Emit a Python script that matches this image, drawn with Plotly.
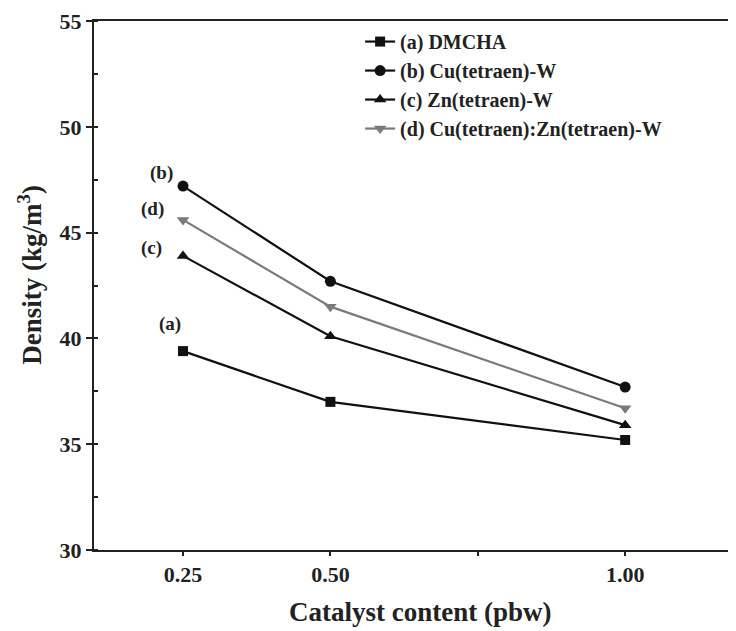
import plotly.graph_objects as go

catalyst = [0.25, 0.50, 1.00]
dmcha = [39.4, 37.0, 35.2]
cu_w = [47.2, 42.7, 37.7]
zn_w = [43.9, 40.1, 35.9]
cuzn_w = [45.6, 41.5, 36.7]

names = ["(a) DMCHA", "(b) Cu(tetraen)-W", "(c) Zn(tetraen)-W", "(d) Cu(tetraen):Zn(tetraen)-W"]
series = [dmcha, cu_w, zn_w, cuzn_w]
symbols = ["square", "circle", "triangle-up", "triangle-down"]
colors = ["#111111", "#111111", "#111111", "#7a7a7a"]
sizes = [10, 11, 11, 11]

xtick_vals = [0.25, 0.50, 1.00]
xtick_text = ["0.25", "0.50", "1.00"]
ytick_vals = [30, 35, 40, 45, 50, 55]

point_labels = ["(a)", "(b)", "(c)", "(d)"]
label_x = [0.228, 0.214, 0.197, 0.199]
label_y = [40.68, 47.82, 44.27, 46.12]

FONT = "Liberation Serif, Times New Roman, serif"

fig = go.Figure()
for n, s, sym, c, sz in zip(names, series, symbols, colors, sizes):
    fig.add_trace(go.Scatter(
        x=catalyst, y=s, name=n, mode="lines+markers",
        line=dict(color=c, width=2.2),
        marker=dict(symbol=sym, size=sz, color=c),
    ))

for t, lx, ly in zip(point_labels, label_x, label_y):
    fig.add_annotation(x=lx, y=ly, xref="x", yref="y", text=t, showarrow=False,
                       font=dict(family=FONT, size=19, color="#222", weight="bold"))

# axis titles
fig.add_annotation(x=0.509, y=-0.117, xref="paper", yref="paper",
                   text="Catalyst content (pbw)", showarrow=False,
                   xanchor="center", yanchor="middle",
                   font=dict(family=FONT, size=27, color="#222", weight="bold"))
fig.add_annotation(x=-0.1, y=0.52, xref="paper", yref="paper",
                   text="Density (kg/m<sup>3</sup>)", showarrow=False, textangle=-90,
                   xanchor="center", yanchor="middle",
                   font=dict(family=FONT, size=27, color="#222", weight="bold"))

fig.update_layout(
    width=728, height=623,
    margin=dict(l=86, r=0, t=13, b=81, autoexpand=False),
    paper_bgcolor="white", plot_bgcolor="white",
    font=dict(family=FONT, color="#222", weight="bold"),
    showlegend=True,
    legend=dict(x=0.4145, y=0.998, xanchor="left", yanchor="top",
                font=dict(family=FONT, size=20, color="#222", weight="bold"),
                bgcolor="rgba(0,0,0,0)", tracegroupgap=0, itemwidth=30),
    xaxis=dict(range=[0.099, 1.188], tickvals=xtick_vals, ticktext=xtick_text,
               automargin=False,
               showline=True, linecolor="#222", linewidth=2, mirror=True,
               ticks="outside", ticklen=4, tickwidth=2, tickcolor="#222",
               minor=dict(ticks="outside", ticklen=4, tick0=0, dtick=0.25,
                          tickwidth=2, tickcolor="#222", showgrid=False),
               showgrid=False, zeroline=False,
               tickfont=dict(family=FONT, size=22, color="#222", weight="bold")),
    yaxis=dict(range=[30, 55], tickvals=ytick_vals, automargin=False,
               showline=True, linecolor="#222", linewidth=2, mirror=False,
               ticks="outside", ticklen=6, tickwidth=2, tickcolor="#222",
               minor=dict(ticks="inside", ticklen=4, dtick=2.5, tickcolor="#222", showgrid=False),
               showgrid=False, zeroline=False,
               tickfont=dict(family=FONT, size=22, color="#222", weight="bold")),
)

fig.write_html("out.html")
